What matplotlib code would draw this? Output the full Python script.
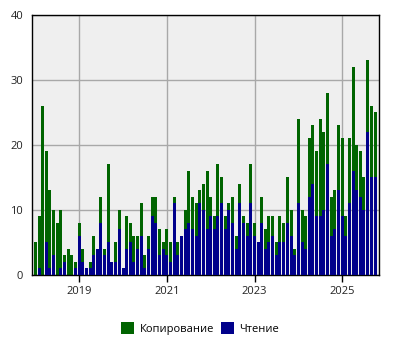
#!/usr/bin/env python3
import datetime as dt

import matplotlib
matplotlib.use("Agg")
import matplotlib.pyplot as plt
import matplotlib.dates as mdates
from matplotlib.patches import Patch


# monthly values, Jan 2018 .. Oct 2025
copy_vals = [
    5, 9, 26, 19, 13, 10, 8, 10, 3, 4, 3, 2,          # 2018
    8, 4, 1, 2, 6, 4, 12, 4, 17, 2, 5, 10,            # 2019
    1, 9, 8, 6, 6, 11, 3, 6, 12, 12, 7, 5,            # 2020
    7, 5, 12, 5, 6, 10, 16, 12, 11, 13, 14, 16,       # 2021
    12, 9, 17, 15, 9, 11, 12, 6, 14, 9, 8, 17,        # 2022
    8, 5, 12, 7, 9, 9, 5, 9, 8, 15, 10, 4,            # 2023
    24, 10, 9, 21, 23, 19, 24, 22, 28, 12, 13, 23,    # 2024
    21, 9, 21, 32, 20, 19, 15, 33, 26, 25,            # 2025
]
read_vals = [
    0, 1, 0, 5, 1, 3, 0, 1, 2, 0, 0, 1,
    6, 2, 1, 1, 3, 4, 8, 3, 5, 2, 2, 7,
    1, 4, 5, 2, 4, 6, 1, 4, 9, 8, 3, 4,
    3, 2, 11, 3, 6, 7, 8, 7, 6, 11, 10, 7,
    9, 7, 9, 11, 7, 10, 8, 4, 11, 8, 6, 11,
    6, 5, 8, 4, 5, 6, 3, 5, 5, 8, 6, 3,
    11, 5, 4, 12, 14, 9, 9, 10, 17, 6, 7, 13,
    9, 6, 11, 16, 13, 12, 10, 22, 15, 15,
]
series_labels = ["Копирование", "Чтение"]
year_ticks = [2019, 2021, 2023, 2025]

months = [dt.datetime(2018 + i // 12, i % 12 + 1, 1) for i in range(len(copy_vals))]

GREEN = "#006400"
BLUE = "#00008b"

plt.rcParams["font.family"] = ["Open Sans", "DejaVu Sans"]

fig = plt.figure(figsize=(4.0, 3.5), dpi=100)
ax = fig.add_axes([0.079, 0.2143, 0.8675, 0.7429])
ax.set_facecolor("#efefef")

ax.bar(months, copy_vals, width=25, color=GREEN, zorder=2)
ax.bar(months, read_vals, width=25, color=BLUE, zorder=3)

ax.set_xlim(dt.datetime(2017, 11, 30), dt.datetime(2025, 10, 31))
ax.set_ylim(0, 40)
ax.set_yticks([0, 10, 20, 30, 40])
ax.set_xticks([dt.datetime(y, 1, 1) for y in year_ticks])
ax.xaxis.set_major_formatter(mdates.DateFormatter("%Y"))

ax.grid(True, color="#a8a8a8", linewidth=1.0, zorder=1)
ax.set_axisbelow(True)
for s in ax.spines.values():
    s.set_color("black")
    s.set_linewidth(1.0)
ax.tick_params(axis="x", length=5, width=1, colors="black", labelsize=8, pad=3)
ax.tick_params(axis="y", length=0, labelsize=8, pad=6)
for lbl in ax.get_xticklabels() + ax.get_yticklabels():
    lbl.set_color("#222222")

handles = [Patch(facecolor=GREEN, label=series_labels[0]),
           Patch(facecolor=BLUE, label=series_labels[1])]
fig.legend(handles=handles, loc="lower center", ncol=2, frameon=False,
           bbox_to_anchor=(0.5, 0.015), fontsize=8, handlelength=1.2,
           handleheight=1.2, columnspacing=0.6, handletextpad=0.5)

fig.savefig("out.png", dpi=100)
